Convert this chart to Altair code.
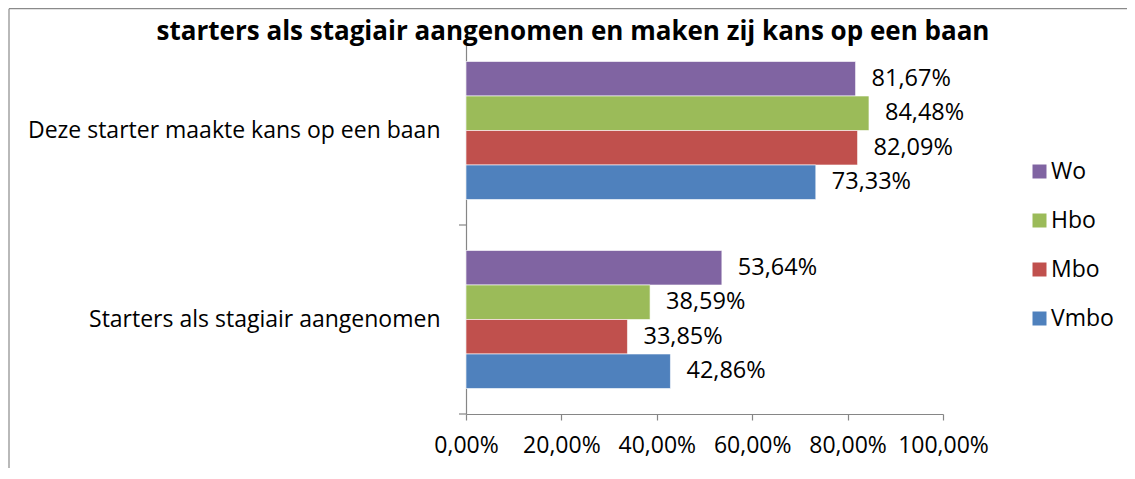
import altair as alt
import pandas as pd

categories = ["Deze starter maakte kans op een baan", "Starters als stagiair aangenomen"]
levels = ["Wo", "Hbo", "Mbo", "Vmbo"]
colors = ["#8064A2", "#9BBB59", "#C0504D", "#4F81BD"]
wo = [81.67, 53.64]
hbo = [84.48, 38.59]
mbo = [82.09, 33.85]
vmbo = [73.33, 42.86]
x_ticks = [0, 20, 40, 60, 80, 100]
title_text = "starters als stagiair aangenomen en maken zij kans op een baan"

series = {"Wo": wo, "Hbo": hbo, "Mbo": mbo, "Vmbo": vmbo}
rows = []
for lvl in levels:
    for cat, v in zip(categories, series[lvl]):
        rows.append({"category": cat, "level": lvl, "value": v})
df = pd.DataFrame(rows)
cat_df = pd.DataFrame({"category": categories})
title_df = pd.DataFrame({"t": [title_text]})

FONT = "Open Sans"
PI = 0.27
H = 378
STEP = H / 2
ysc = alt.Scale(domain=categories, paddingInner=PI, paddingOuter=PI / 2)

y_enc = alt.Y("category:N", sort=categories, scale=ysc,
              axis=alt.Axis(title=None, ticks=False, labelFontSize=23, labelFont=FONT,
                            labelColor="#000000", labelPadding=26, labelLimit=600,
                            domainColor="#868686", domainWidth=1.2))
yoff = alt.YOffset("level:N", sort=levels, scale=alt.Scale(domain=levels, paddingInner=0, paddingOuter=0))

bars = alt.Chart(df).mark_bar(stroke="white", strokeWidth=0.6).encode(
    y=y_enc,
    yOffset=yoff,
    x=alt.X("value:Q", scale=alt.Scale(domain=[0, 100]),
            axis=alt.Axis(title=None, values=x_ticks, grid=False, tickSize=6,
                          labelExpr="replace(format(datum.value, '.2f'), '.', ',') + '%'",
                          labelFontSize=23, labelFont=FONT, labelColor="#000000",
                          labelOverlap=False, labelBound=False, labelFlush=False,
                          labelPadding=14, domainColor="#868686", tickColor="#868686",
                          domainWidth=1.2, tickWidth=1.2)),
    color=alt.Color("level:N", sort=levels, scale=alt.Scale(domain=levels, range=colors),
                    legend=alt.Legend(title=None, orient="none", legendX=562, legendY=124,
                                      symbolType="square", symbolSize=196, symbolStrokeWidth=0,
                                      labelFontSize=23, labelFont=FONT, labelColor="#000000",
                                      labelOffset=0, rowPadding=25)),
)

labels = alt.Chart(df).transform_calculate(
    lab="replace(format(datum.value, '.2f'), '.', ',') + '%'"
).mark_text(align="left", baseline="middle", dx=16, fontSize=23.5, font=FONT, color="#000000").encode(
    y=alt.Y("category:N", sort=categories),
    yOffset=yoff,
    x="value:Q",
    text="lab:N",
)

yticks = alt.Chart(cat_df).mark_rule(color="#868686", strokeWidth=1.2).encode(
    y=alt.Y("category:N", sort=categories),
    yOffset=alt.value(STEP * (1 - PI / 2)),
    x=alt.value(-7),
    x2=alt.value(0),
)

border_top = alt.Chart(title_df).mark_rule(color="#8a8a8a", strokeWidth=1.2).encode(
    x=alt.value(-457), x2=alt.value(661), y=alt.value(-27.3)
)
border_left = alt.Chart(title_df).mark_rule(color="#8a8a8a", strokeWidth=1.2).encode(
    x=alt.value(-457), y=alt.value(-27.3), y2=alt.value(432)
)

title = alt.Chart(title_df).mark_text(font=FONT, fontSize=26, fontWeight="bold", color="#000000",
                                      align="center", baseline="alphabetic").encode(
    x=alt.value(107), y=alt.value(4), text="t:N"
)

chart = alt.layer(border_top, border_left, bars, labels, yticks, title).properties(
    width=477,
    height=H,
    padding={"left": 458, "top": 28, "right": 184, "bottom": 54},
    autosize=alt.AutoSizeParams(type="none"),
).configure_view(stroke=None)

chart.save("out.html", embed_options={"renderer": "svg", "actions": False})
